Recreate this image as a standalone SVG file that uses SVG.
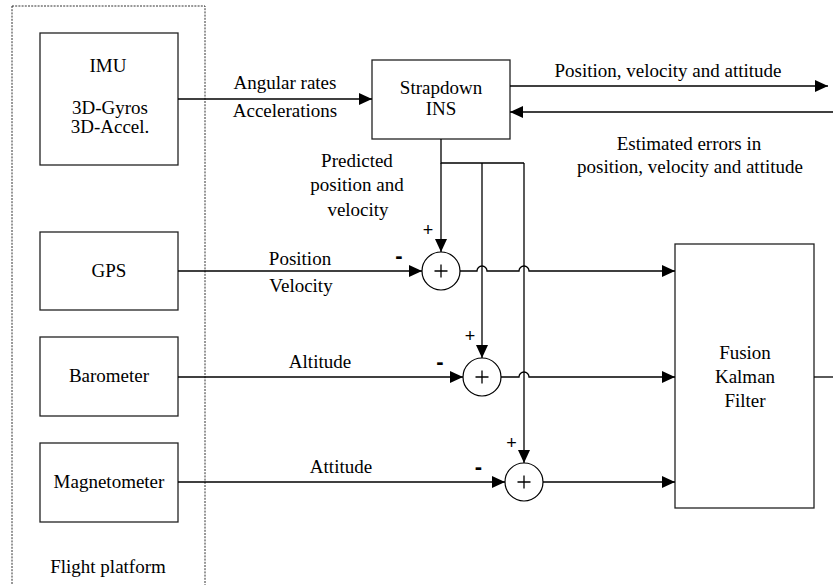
<svg xmlns="http://www.w3.org/2000/svg" width="833" height="585" viewBox="0 0 833 585">
<defs>
<marker id="arr" markerUnits="userSpaceOnUse" markerWidth="14" markerHeight="12" refX="13" refY="6" orient="auto">
<path d="M0,0 L13,6 L0,12 z" fill="#000"/>
</marker>
<style>
.box{fill:#fff;stroke:#222;stroke-width:1.3}
.ln{fill:none;stroke:#000;stroke-width:1.3}
.t{font-family:"Liberation Serif","Times New Roman",serif;font-size:19px;fill:#000;text-anchor:middle}
.s{font-family:"Liberation Sans",Arial,sans-serif;fill:#000;text-anchor:middle}
.sum{fill:#fff;stroke:#000;stroke-width:1.2}
</style>
</defs>
<rect width="833" height="585" fill="#fff"/>

<g id="flight-platform">
<rect x="12" y="6" width="193" height="600" fill="none" stroke="#333" stroke-width="1" stroke-dasharray="2 1.2"/>
<text class="t" x="108" y="573">Flight platform</text>
</g>

<g id="imu">
<rect class="box" x="40" y="33" width="138" height="132"/>
<text class="t" x="108" y="72">IMU</text>
<text class="t" x="110" y="114" font-size="16.5">3D-Gyros</text>
<text class="t" x="110" y="133" font-size="16.5">3D-Accel.</text>
</g>

<g id="gps">
<rect class="box" x="40" y="232" width="138" height="78"/>
<text class="t" x="109" y="277">GPS</text>
</g>

<g id="barometer">
<rect class="box" x="40" y="337" width="138" height="79"/>
<text class="t" x="109" y="382">Barometer</text>
</g>

<g id="magnetometer">
<rect class="box" x="40" y="443" width="138" height="79"/>
<text class="t" x="109" y="488">Magnetometer</text>
</g>

<g id="strapdown-ins">
<rect class="box" x="372" y="60" width="138" height="79"/>
<text class="t" x="441" y="94">Strapdown</text>
<text class="t" x="441" y="115">INS</text>
</g>

<g id="kalman">
<rect class="box" x="675" y="244" width="139" height="264"/>
<text class="t" x="745" y="359">Fusion</text>
<text class="t" x="745" y="383">Kalman</text>
<text class="t" x="745" y="407">Filter</text>
</g>

<g id="sum1">
<circle class="sum" cx="441" cy="271" r="19"/>
<path class="ln" d="M434.5,271 H447.5 M441,264.5 V277.5"/>
</g>
<g id="sum2">
<circle class="sum" cx="482" cy="377" r="19"/>
<path class="ln" d="M475.5,377 H488.5 M482,370.5 V383.5"/>
</g>
<g id="sum3">
<circle class="sum" cx="524" cy="482" r="19"/>
<path class="ln" d="M517.5,482 H530.5 M524,475.5 V488.5"/>
</g>

<g id="connectors">
<path class="ln" d="M178,99 H372" marker-end="url(#arr)"/>
<path class="ln" d="M510,86 H828" marker-end="url(#arr)"/>
<path class="ln" d="M833,112 H510" marker-end="url(#arr)"/>
<path class="ln" d="M441,139 V163 H524"/>
<path class="ln" d="M441,163 V252" marker-end="url(#arr)"/>
<path class="ln" d="M482,163 V358" marker-end="url(#arr)"/>
<path class="ln" d="M524,163 V463" marker-end="url(#arr)"/>
<path class="ln" d="M178,271 H422" marker-end="url(#arr)"/>
<path class="ln" d="M178,377 H463" marker-end="url(#arr)"/>
<path class="ln" d="M178,482 H505" marker-end="url(#arr)"/>
<path class="ln" d="M460,271 H477 A5,5 0 0 1 487,271 H519 A5,5 0 0 1 529,271 H675" marker-end="url(#arr)"/>
<path class="ln" d="M501,377 H519 A5,5 0 0 1 529,377 H675" marker-end="url(#arr)"/>
<path class="ln" d="M543,482 H675" marker-end="url(#arr)"/>
<path class="ln" d="M814,377 H833"/>
</g>

<g id="labels">
<text class="t" x="285" y="89">Angular rates</text>
<text class="t" x="285" y="117">Accelerations</text>
<text class="t" x="668" y="77">Position, velocity and attitude</text>
<text class="t" x="689" y="150">Estimated errors in</text>
<text class="t" x="690" y="173">position, velocity and attitude</text>
<text class="t" x="357" y="167">Predicted</text>
<text class="t" x="357" y="191">position and</text>
<text class="t" x="358" y="216">velocity</text>
<text class="t" x="300" y="265">Position</text>
<text class="t" x="301" y="292">Velocity</text>
<text class="t" x="320" y="368">Altitude</text>
<text class="t" x="341" y="473">Attitude</text>
<text class="s" x="428" y="236" font-size="18">+</text>
<text class="s" x="470" y="341.5" font-size="18">+</text>
<text class="s" x="511.5" y="449" font-size="18">+</text>
<text class="s" x="399" y="263" font-size="22" font-weight="bold">-</text>
<text class="s" x="440" y="369" font-size="22" font-weight="bold">-</text>
<text class="s" x="478.5" y="474" font-size="22" font-weight="bold">-</text>
</g>
</svg>
